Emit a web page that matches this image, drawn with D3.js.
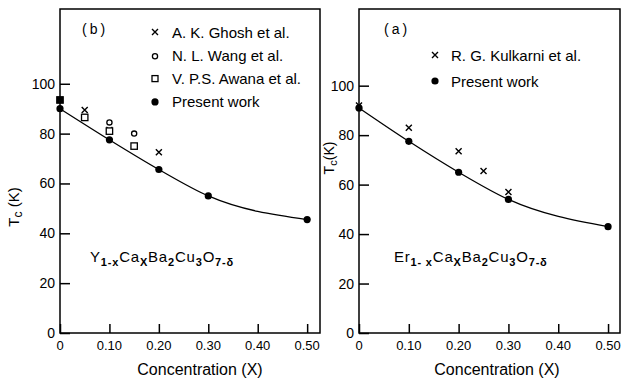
<!DOCTYPE html>
<html>
<head>
<meta charset="utf-8">
<script src="https://cdn.jsdelivr.net/npm/d3@7/dist/d3.min.js"></script>
<style>
  html, body { margin: 0; padding: 0; background: #fff; }
  svg { display: block; font-family: "Liberation Sans", Arial, sans-serif; }
</style>
</head>
<body>
<svg id="chart" width="622" height="381"></svg>
<script>
// Tick labels
const xTicks = [0, 0.1, 0.2, 0.3, 0.4, 0.5];
const xTickLabels = ["0", "0.10", "0.20", "0.30", "0.40", "0.50"];
const yTicks = [0, 20, 40, 60, 80, 100];

// Panel (b): Y(1-x)Ca(x)Ba2Cu3O(7-δ)
const yPresentX = [0, 0.1, 0.2, 0.3, 0.5];
const yPresentTc = [90, 77.5, 65.6, 55, 45.5];
const ghoshX = [0.05, 0.1, 0.2];
const ghoshTc = [89.5, 81.5, 72.5];
const wangX = [0.1, 0.15];
const wangTc = [84.5, 80];
const awanaX = [0, 0.05, 0.1, 0.15];
const awanaTc = [93.5, 86.5, 81, 75];

// Panel (a): Er(1-x)Ca(x)Ba2Cu3O(7-δ)
const erPresentX = [0, 0.1, 0.2, 0.3, 0.5];
const erPresentTc = [91, 77.5, 65, 54, 43];
const kulkarniX = [0, 0.1, 0.2, 0.25, 0.3];
const kulkarniTc = [92, 83, 73.5, 65.5, 57];

const svg = d3.select("#chart");

function zip(xs, ys) { return xs.map((x, i) => ({ x, y: ys[i] })); }

function panel(cfg) {
  const x = d3.scaleLinear().domain([0, cfg.xMax]).range([cfg.left, cfg.right]);
  const y = d3.scaleLinear().domain([0, cfg.yMax]).range([cfg.bottom, cfg.top]);
  const g = svg.append("g");

  // frame
  g.append("rect")
    .attr("x", cfg.left).attr("y", cfg.top)
    .attr("width", cfg.right - cfg.left).attr("height", cfg.bottom - cfg.top)
    .attr("fill", "none").attr("stroke", "#000").attr("stroke-width", 1.5);

  // x axis with inward ticks
  const xAxis = d3.axisTop(x).tickValues(xTicks).tickSize(9).tickFormat("");
  g.append("g").attr("transform", `translate(0,${cfg.bottom})`).call(xAxis)
    .call(s => s.select(".domain").remove())
    .call(s => s.selectAll("line").attr("stroke-width", 1.5));
  g.selectAll(".xlab").data(xTicks).enter().append("text")
    .attr("x", d => x(d)).attr("y", cfg.bottom + 17)
    .attr("text-anchor", "middle").attr("font-size", 13)
    .text((d, i) => xTickLabels[i]);

  // y axis with inward ticks
  const yAxis = d3.axisRight(y).tickValues(yTicks).tickSize(10).tickFormat("");
  g.append("g").attr("transform", `translate(${cfg.left},0)`).call(yAxis)
    .call(s => s.select(".domain").remove())
    .call(s => s.selectAll("line").attr("stroke-width", 1.5));
  g.selectAll(".ylab").data(yTicks).enter().append("text")
    .attr("x", cfg.left - 5).attr("y", d => y(d) + 5)
    .attr("text-anchor", "end").attr("font-size", 14)
    .text(d => d);

  // axis titles
  g.append("text")
    .attr("x", cfg.xTitleX).attr("y", 375)
    .attr("text-anchor", "middle").attr("font-size", 16)
    .text("Concentration (X)");
  const yt = g.append("text")
    .attr("transform", `translate(${cfg.yTitle[0]},${cfg.yTitle[1]}) rotate(-90)`)
    .attr("text-anchor", "middle").attr("font-size", cfg.yTitleSize);
  yt.append("tspan").text("T");
  yt.append("tspan").attr("font-size", cfg.yTitleSize * 0.8).attr("dy", 3).text("c");
  yt.append("tspan").attr("dy", -3).text(cfg.yTitleGap + "(K)");

  // panel tag
  g.append("text").attr("x", cfg.tag[0]).attr("y", cfg.tag[1])
    .attr("font-size", 14).attr("letter-spacing", 3).text(cfg.tagText);

  // compound formula: main symbols with lowered subscripts
  const f = g.append("text").attr("x", cfg.formula[0]).attr("y", cfg.formula[1])
    .attr("font-size", 15).attr("letter-spacing", 0.8);
  let lowered = false;
  cfg.formulaParts.forEach(p => {
    const isSub = !!p[1];
    const t = f.append("tspan").text(p[0]);
    if (isSub) {
      t.attr("font-size", 11).attr("font-weight", "bold");
      if (!lowered) t.attr("dy", 4);
      lowered = true;
    } else if (lowered) {
      t.attr("dy", -4);
      lowered = false;
    }
  });

  // fitted curve through present work
  const pts = zip(cfg.presentX, cfg.presentTc);
  g.append("path").datum(pts)
    .attr("d", d3.line().x(d => x(d.x)).y(d => y(d.y)).curve(d3.curveMonotoneX))
    .attr("fill", "none").attr("stroke", "#000").attr("stroke-width", 1.3);

  return { g, x, y, pts };
}

function crosses(g, data, x, y) {
  g.selectAll(null).data(data).enter().append("path")
    .attr("d", d => {
      const cx = x(d.x), cy = y(d.y), s = 3;
      return `M${cx - s},${cy - s}L${cx + s},${cy + s}M${cx + s},${cy - s}L${cx - s},${cy + s}`;
    })
    .attr("stroke", "#000").attr("stroke-width", 1.4).attr("fill", "none");
}
function dots(g, data, x, y) {
  g.selectAll(null).data(data).enter().append("circle")
    .attr("cx", d => x(d.x)).attr("cy", d => y(d.y)).attr("r", 3.6).attr("fill", "#000");
}
function rings(g, data, x, y) {
  g.selectAll(null).data(data).enter().append("circle")
    .attr("cx", d => x(d.x)).attr("cy", d => y(d.y)).attr("r", 2.6)
    .attr("fill", "#fff").attr("stroke", "#000").attr("stroke-width", 1.3);
}
function squares(g, data, x, y) {
  g.selectAll(null).data(data).enter().append("rect")
    .attr("x", d => x(d.x) - 3.2).attr("y", d => y(d.y) - 3.2)
    .attr("width", 6.4).attr("height", 6.4)
    .attr("fill", d => d.x === 0 ? "#000" : "#fff")
    .attr("stroke", "#000").attr("stroke-width", 1.3);
}

// ---- panel (b) ----
const b = panel({
  left: 60, right: 320, top: 9, bottom: 333,
  xMax: 0.526, yMax: 130,
  xTitleX: 200, yTitle: [19, 207], yTitleSize: 15, yTitleGap: " ",
  tag: [82, 34], tagText: "(b)",
  formula: [90, 262],
  formulaParts: [["Y"], ["1-x", 1], ["Ca"], ["X", 1], ["Ba"], ["2", 1], ["Cu"], ["3", 1], ["O"], ["7-δ", 1]],
  presentX: yPresentX, presentTc: yPresentTc
});
crosses(b.g, zip(ghoshX, ghoshTc), b.x, b.y);
rings(b.g, zip(wangX, wangTc), b.x, b.y);
squares(b.g, zip(awanaX, awanaTc), b.x, b.y);
dots(b.g, b.pts, b.x, b.y);

// legend (b)
const legB = [
  { m: "x", t: "A. K. Ghosh et al." },
  { m: "o", t: "N. L. Wang et al." },
  { m: "s", t: "V. P.S. Awana et al." },
  { m: "d", t: "Present work" }
];
legB.forEach((e, i) => {
  const cy = 32 + i * 23.3, cx = 155;
  if (e.m === "x") b.g.append("path").attr("d", `M${cx-3},${cy-3}L${cx+3},${cy+3}M${cx+3},${cy-3}L${cx-3},${cy+3}`).attr("stroke", "#000").attr("stroke-width", 1.4);
  if (e.m === "o") b.g.append("circle").attr("cx", cx).attr("cy", cy + 1).attr("r", 2.6).attr("fill", "none").attr("stroke", "#000").attr("stroke-width", 1.3);
  if (e.m === "s") b.g.append("rect").attr("x", cx - 3).attr("y", cy - 3).attr("width", 6).attr("height", 6).attr("fill", "none").attr("stroke", "#000").attr("stroke-width", 1.3);
  if (e.m === "d") b.g.append("circle").attr("cx", cx).attr("cy", cy).attr("r", 3.6).attr("fill", "#000");
  b.g.append("text").attr("x", 172).attr("y", cy + 5.5).attr("font-size", 15).text(e.t);
});

// ---- panel (a) ----
const a = panel({
  left: 359, right: 620, top: 9, bottom: 333,
  xMax: 0.524, yMax: 131,
  xTitleX: 497, yTitle: [334, 158], yTitleSize: 14, yTitleGap: "",
  tag: [384, 34], tagText: "(a)",
  formula: [394, 262],
  formulaParts: [["Er"], ["1- x", 1], ["Ca"], ["X", 1], ["Ba"], ["2", 1], ["Cu"], ["3", 1], ["O"], ["7-δ", 1]],
  presentX: erPresentX, presentTc: erPresentTc
});
crosses(a.g, zip(kulkarniX, kulkarniTc), a.x, a.y);
dots(a.g, a.pts, a.x, a.y);

const legA = [
  { m: "x", t: "R. G. Kulkarni et al." },
  { m: "d", t: "Present work" }
];
legA.forEach((e, i) => {
  const cy = 55 + i * 26, cx = 435;
  if (e.m === "x") a.g.append("path").attr("d", `M${cx-3},${cy-3}L${cx+3},${cy+3}M${cx+3},${cy-3}L${cx-3},${cy+3}`).attr("stroke", "#000").attr("stroke-width", 1.4);
  if (e.m === "d") a.g.append("circle").attr("cx", cx).attr("cy", cy).attr("r", 3.6).attr("fill", "#000");
  a.g.append("text").attr("x", 451).attr("y", cy + 5.5).attr("font-size", 15).text(e.t);
});
</script>
</body>
</html>
